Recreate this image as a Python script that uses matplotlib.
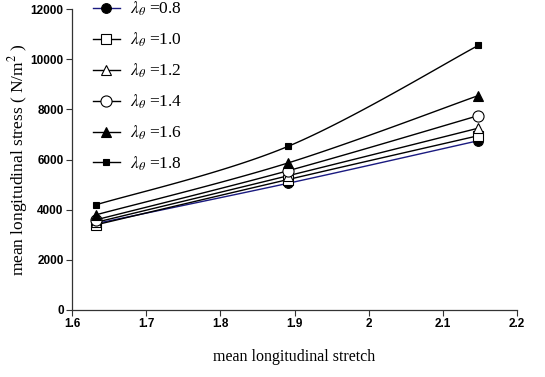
import numpy as np
import matplotlib
matplotlib.use('Agg')
import matplotlib.pyplot as plt

plt.rcParams['mathtext.fontset'] = 'stix'

# mean longitudinal stretch at the three loading steps
stretch = [1.633, 1.891, 2.148]

# mean longitudinal stress (N/m^2) for each circumferential stretch
lam_theta = ['0.8', '1.0', '1.2', '1.4', '1.6', '1.8']
stress_08 = [3450, 5050, 6750]
stress_10 = [3400, 5200, 6950]
stress_12 = [3500, 5350, 7250]
stress_14 = [3600, 5550, 7750]
stress_16 = [3800, 5860, 8550]
stress_18 = [4200, 6520, 10550]

xticks = [1.6, 1.7, 1.8, 1.9, 2, 2.1, 2.2]
xticklabels = ['1.6', '1.7', '1.8', '1.9', '2', '2.1', '2.2']
yticks = [0, 2000, 4000, 6000, 8000, 10000, 12000]


def smooth_curve(x, y, n=40):
    # excel style smoothed line: cubic bezier segments, catmull-rom handles
    x = np.asarray(x, float)
    y = np.asarray(y, float)
    px = np.concatenate([[x[0]], x, [x[-1]]])
    py = np.concatenate([[y[0]], y, [y[-1]]])
    xs, ys = [], []
    t = np.linspace(0, 1, n)
    for i in range(len(x) - 1):
        p0 = np.array([x[i], y[i]])
        p3 = np.array([x[i + 1], y[i + 1]])
        p1 = p0 + (np.array([px[i + 2], py[i + 2]]) - np.array([px[i], py[i]])) / 6
        p2 = p3 - (np.array([px[i + 3], py[i + 3]]) - np.array([px[i + 1], py[i + 1]])) / 6
        b = ((1 - t) ** 3)[:, None] * p0 + (3 * (1 - t) ** 2 * t)[:, None] * p1 \
            + (3 * (1 - t) * t ** 2)[:, None] * p2 + (t ** 3)[:, None] * p3
        xs.extend(b[:, 0])
        ys.extend(b[:, 1])
    return xs, ys


series = [stress_08, stress_10, stress_12, stress_14, stress_16, stress_18]
styles = [
    dict(marker='o', mfc='black', ms=7, color='#1a1a80'),
    dict(marker='s', mfc='white', ms=7, color='black'),
    dict(marker='^', mfc='white', ms=7, color='black'),
    dict(marker='o', mfc='white', ms=8, color='black'),
    dict(marker='^', mfc='black', ms=7, color='black'),
    dict(marker='s', mfc='black', ms=5, color='black'),
]

fig = plt.figure(figsize=(5.45, 3.77), dpi=100)
ax = fig.add_axes([72 / 545, 1 - 310 / 377, 445 / 545, 301 / 377])

handles = []
for vals, st, lab in zip(series, styles, lam_theta):
    sx, sy = smooth_curve(stretch, vals)
    ax.plot(sx, sy, color=st['color'], lw=1.0, zorder=2)
    ax.plot(stretch, vals, ls='none', marker=st['marker'], ms=st['ms'],
            mfc=st['mfc'], mec='black', mew=0.8, zorder=3)
    h, = ax.plot([], [], color=st['color'], lw=1.0, marker=st['marker'],
                 ms=st['ms'], mfc=st['mfc'], mec='black', mew=0.8,
                 label=r'$\lambda_\theta$' + ' =' + lab)
    handles.append(h)

ax.set_xlim(1.6, 2.2)
ax.set_ylim(0, 12000)
ax.set_xticks(xticks)
ax.set_xticklabels(xticklabels)
ax.set_yticks(yticks)
for lab in ax.get_xticklabels() + ax.get_yticklabels():
    lab.set_family('Liberation Sans')
    lab.set_fontsize(8.5)
    lab.set_fontweight('bold')
ax.tick_params(direction='out', length=4, width=0.8, colors='#333333',
               labelcolor='black')
ax.tick_params(axis='x', pad=2)
ax.tick_params(axis='y', pad=2)
ax.spines['top'].set_visible(False)
ax.spines['right'].set_visible(False)
for s in ['left', 'bottom']:
    ax.spines[s].set_color('#333333')
    ax.spines[s].set_linewidth(0.9)

ax.set_xlabel('mean longitudinal stretch', family='Liberation Serif',
              fontsize=11.5)
ax.xaxis.set_label_coords(0.5, -(349 - 310) / 301, transform=ax.transAxes)
ax.set_ylabel(r'mean longitudinal stress ( N/m$^2$ )', family='Liberation Serif',
              fontsize=12.5)
ax.yaxis.set_label_coords(-(72 - 30) / 445, 0.5, transform=ax.transAxes)

fig.legend(handles=handles, loc='upper left', bbox_to_anchor=(93 / 545, 1.0),
           frameon=False, borderpad=0, borderaxespad=0, handlelength=1.55,
           handletextpad=0.57, labelspacing=0.72,
           prop={'family': 'Liberation Serif', 'size': 12.5})

fig.savefig('out.png', dpi=100)
